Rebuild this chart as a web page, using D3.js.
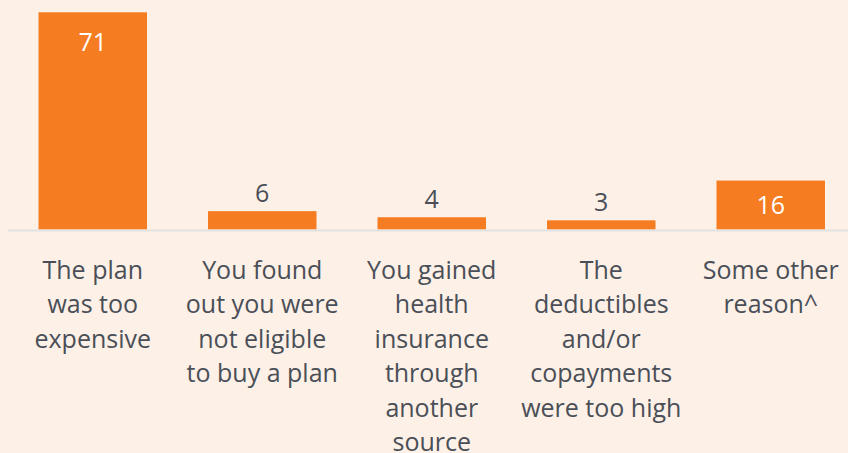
<!DOCTYPE html>
<html>
<meta charset="utf-8" />
<head>
    <script src="https://d3js.org/d3.v7.min.js"></script>
    <style>
        body { margin: 0; background: #FDF0E7; }
        svg { display: block; }
        text { font-family: "Open Sans", sans-serif; }
    </style>
</head>
<body>
    <div id="chart"></div>
    <script type="text/javascript">
        // reasons for not buying a plan, percent
        var categories = ["plan", "eligible", "gained", "deductibles", "other"];
        var values = [71, 6, 4, 3, 16];
        var tickLabels = [
            ["The plan", "was too", "expensive"],
            ["You found", "out you were", "not eligible", "to buy a plan"],
            ["You gained", "health", "insurance", "through", "another", "source"],
            ["The", "deductibles", "and/or", "copayments", "were too high"],
            ["Some other", "reason^"]
        ];

        const width = 848, height = 453,
            baseY = 229.5, topY = 12.3,
            fontSize = 25, lineH = 34.4;
        const barColor = "#F57C21", textColor = "#4A4F57";

        var svg = d3.select("#chart").append("svg")
            .attr("width", width)
            .attr("height", height);

        var x = d3.scaleBand()
            .domain(categories)
            .range([8, 855.5])
            .paddingInner(0.36)
            .paddingOuter(0.18);

        var y = d3.scaleLinear()
            .domain([0, d3.max(values)])
            .range([baseY, topY]);

        var data = categories.map(function(c, i) { return {cat: c, v: values[i], lines: tickLabels[i]}; });

        svg.selectAll("rect.bar")
            .data(data)
            .enter()
            .append("rect")
            .attr("class", "bar")
            .attr("x", function(d) { return x(d.cat); })
            .attr("y", function(d) { return y(d.v); })
            .attr("width", x.bandwidth())
            .attr("height", function(d) { return baseY - y(d.v); })
            .style("fill", barColor);

        // baseline
        svg.append("line")
            .attr("x1", 8).attr("x2", width)
            .attr("y1", baseY + 1).attr("y2", baseY + 1)
            .style("stroke", "#E2E2E2")
            .style("stroke-width", 2);

        // value labels, inside the bar when it is tall enough
        svg.selectAll("text.val")
            .data(data)
            .enter()
            .append("text")
            .attr("class", "val")
            .attr("x", function(d) { return x(d.cat) + x.bandwidth() / 2; })
            .attr("y", function(d) {
                var top = y(d.v);
                if (d.v >= 10) return Math.min(top + 38.5, (top + baseY) / 2 + 8.5);
                return top - 9;
            })
            .attr("text-anchor", "middle")
            .style("font-size", fontSize + "px")
            .style("fill", function(d) { return d.v >= 10 ? "#FFFFFF" : textColor; })
            .text(function(d) { return d.v; });

        // category labels via a bottom axis
        var axis = svg.append("g")
            .attr("transform", "translate(0," + baseY + ")")
            .call(d3.axisBottom(x).tickSize(0).tickFormat(""));
        axis.select(".domain").remove();

        axis.selectAll(".tick text")
            .data(data)
            .attr("y", 0)
            .attr("dy", 0)
            .style("font-size", fontSize + "px")
            .style("fill", textColor)
            .each(function(d) {
                var t = d3.select(this);
                d.lines.forEach(function(line, k) {
                    t.append("tspan")
                        .attr("x", 0)
                        .attr("y", 49.5 + k * lineH)
                        .text(line);
                });
            });
    </script>
</body>
</html>
